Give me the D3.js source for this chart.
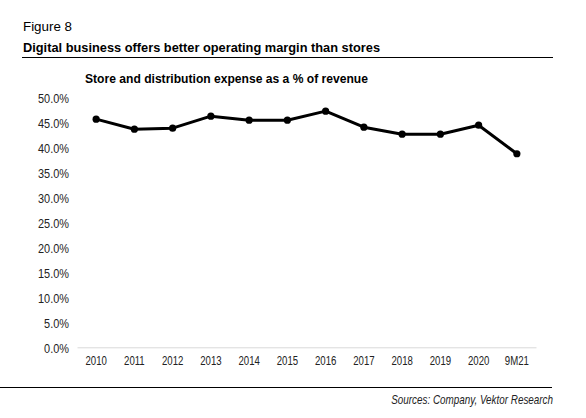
<!DOCTYPE html>
<html><head><meta charset="utf-8">
<script src="https://cdn.jsdelivr.net/npm/d3@7"></script>
<style>
html,body{margin:0;padding:0;background:#fff;}
svg{display:block;}
</style>
</head><body>
<script>
const categories = ["2010","2011","2012","2013","2014","2015","2016","2017","2018","2019","2020","9M21"];
const values = [45.5, 43.5, 43.7, 46.1, 45.3, 45.3, 47.1, 43.9, 42.5, 42.5, 44.3, 38.6];
const yTicks = [0,5,10,15,20,25,30,35,40,45,50];

const W = 586, H = 418;
const sans = "'Liberation Sans',Arial,sans-serif";
const svg = d3.select("body").append("svg").attr("width", W).attr("height", H);

function squeeze(sel, f) {
  sel.each(function() {
    const w = this.getComputedTextLength();
    d3.select(this).attr("textLength", w * f).attr("lengthAdjust", "spacingAndGlyphs");
  });
}

svg.append("text").attr("x", 23).attr("y", 31).attr("font-family", sans).attr("font-size", 13.5).attr("fill", "#000")
  .attr("textLength", 49).attr("lengthAdjust", "spacingAndGlyphs").text("Figure 8");
svg.append("text").attr("x", 23).attr("y", 52).attr("font-family", sans).attr("font-weight", "bold").attr("font-size", 13).attr("fill", "#000")
  .attr("textLength", 357).attr("lengthAdjust", "spacingAndGlyphs").text("Digital business offers better operating margin than stores");
svg.append("line").attr("x1", 22).attr("x2", 553).attr("y1", 57.5).attr("y2", 57.5).attr("stroke", "#000").attr("stroke-width", 1);

svg.append("text").attr("x", 85).attr("y", 82.5).attr("font-family", sans).attr("font-weight", "bold").attr("font-size", 12.5).attr("fill", "#000")
  .attr("textLength", 283).attr("lengthAdjust", "spacingAndGlyphs").text("Store and distribution expense as a % of revenue");

const x = d3.scaleBand().domain(categories).range([77, 536]);
const y = d3.scaleLinear().domain([0, 50]).range([347.3, 96.6]);

const gy = svg.append("g").attr("transform", "translate(76,0)")
  .call(d3.axisLeft(y).tickValues(yTicks).tickSize(0).tickPadding(7).tickFormat(d => d3.format(".1f")(d) + "%"));
gy.select(".domain").remove();
gy.selectAll("text").attr("font-family", sans).attr("font-size", 13).attr("fill", "#222").attr("dy", "0.42em");
squeeze(gy.selectAll("text"), 0.84);

const gx = svg.append("g").attr("transform", "translate(0,347.3)")
  .call(d3.axisBottom(x).tickSize(0).tickPadding(9));
gx.select(".domain").attr("stroke", "#d9d9d9").attr("stroke-width", 1);
gx.selectAll("text").attr("font-family", sans).attr("font-size", 12.5).attr("fill", "#222");
squeeze(gx.selectAll("text"), 0.77);

const pts = categories.map((c, i) => ({c, v: values[i]}));
const line = d3.line().x(d => x(d.c) + x.bandwidth()/2).y(d => y(d.v));
svg.append("path").datum(pts).attr("d", line).attr("fill", "none").attr("stroke", "#000").attr("stroke-width", 3).attr("stroke-linejoin", "round");
svg.selectAll("circle.pt").data(pts).enter().append("circle").attr("class", "pt")
  .attr("cx", d => x(d.c) + x.bandwidth()/2).attr("cy", d => y(d.v)).attr("r", 3.6).attr("fill", "#000");

svg.append("line").attr("x1", 0).attr("x2", 552).attr("y1", 387.5).attr("y2", 387.5).attr("stroke", "#000").attr("stroke-width", 1);
const src = svg.append("text").attr("text-anchor", "end").attr("font-family", sans).attr("font-style", "italic").attr("font-size", 12.5).attr("fill", "#222")
  .text("Sources: Company, Vektor Research");
const sw = src.node().getComputedTextLength();
src.attr("transform", `translate(553,404) scale(${162 / sw},1)`);
</script>
</body></html>
